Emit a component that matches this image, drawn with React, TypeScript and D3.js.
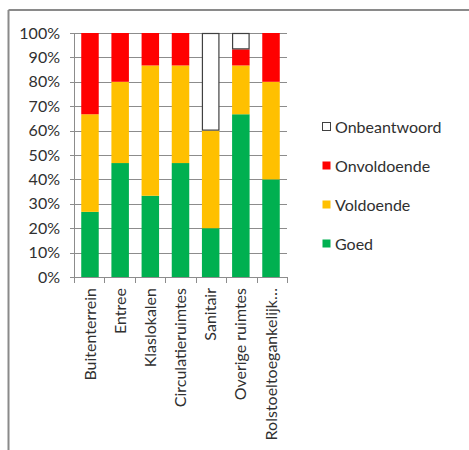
import React from "react";
import * as d3 from "d3";

const categories = [
  "Buitenterrein",
  "Entree",
  "Klaslokalen",
  "Circulatieruimtes",
  "Sanitair",
  "Overige ruimtes",
  "Rolstoeltoegankelijk…",
];
const goed = [26.7, 46.7, 33.3, 46.7, 20, 66.7, 40];
const voldoende = [40, 33.3, 53.4, 40, 40, 20, 40];
const onvoldoende = [33.3, 20, 13.3, 13.3, 0, 6.6, 20];
const onbeantwoord = [0, 0, 0, 0, 40, 6.7, 0];
const yTicks = [0, 10, 20, 30, 40, 50, 60, 70, 80, 90, 100];
const legendItems = ["Onbeantwoord", "Onvoldoende", "Voldoende", "Goed"];

const W = 469;
const H = 450;
const FONT = "Lato, 'Open Sans', sans-serif";
const TEXT = "#303030";
const FS = 16;

export default function App() {
  const x = d3
    .scaleBand<string>()
    .domain(categories)
    .range([74, 287])
    .paddingInner(0.42)
    .paddingOuter(0.24);
  const y = d3.scaleLinear().domain([0, 100]).range([277, 33]);

  const seriesList = [
    { key: "Goed", values: goed, fill: "#00B050", stroke: "none" },
    { key: "Voldoende", values: voldoende, fill: "#FFC000", stroke: "none" },
    { key: "Onvoldoende", values: onvoldoende, fill: "#FF0000", stroke: "none" },
    { key: "Onbeantwoord", values: onbeantwoord, fill: "#FFFFFF", stroke: "#404040" },
  ];

  const rows = categories.map((c, i) => {
    const r: any = { cat: c };
    seriesList.forEach((s) => (r[s.key] = s.values[i]));
    return r;
  });
  const stacked = d3.stack<any>().keys(seriesList.map((s) => s.key))(rows);

  const legendColor: Record<string, { fill: string; stroke: string }> = {};
  seriesList.forEach((s) => (legendColor[s.key] = { fill: s.fill, stroke: s.stroke }));
  const legendY = d3.scalePoint<string>().domain(legendItems).range([127, 244]);

  const xTickPos = d3.range(categories.length + 1).map((i) => 74 + i * (213 / categories.length));

  return (
    <div style={{ position: "fixed", left: 0, top: 0 }}>
      <svg width={W} height={H} style={{ display: "block", background: "#fff" }}>
        {/* frame */}
        <line x1={8.5} x2={8.5} y1={10} y2={H} stroke="#8a8a8a" strokeWidth={2} />
        <line x1={8.5} x2={W} y1={10} y2={10} stroke="#8a8a8a" strokeWidth={2} />

        {/* gridlines */}
        {yTicks.map((t) => (
          <line
            key={"g" + t}
            x1={70}
            x2={287}
            y1={Math.round(y(t)) + 0.5}
            y2={Math.round(y(t)) + 0.5}
            stroke="#8c8c8c"
            strokeWidth={1}
          />
        ))}
        {/* y axis */}
        <line x1={74.5} x2={74.5} y1={33} y2={277} stroke="#8c8c8c" />
        {yTicks.map((t) => (
          <text
            key={"yl" + t}
            x={60}
            y={y(t)}
            dy="0.35em"
            textAnchor="end"
            fontFamily={FONT}
            fontSize={FS}
            fill={TEXT}
          >
            {t + "%"}
          </text>
        ))}

        {/* bars */}
        {stacked.map((layer, li) => {
          const s = seriesList[li];
          const st = s.stroke !== "none";
          return (
            <g key={s.key}>
              {layer.map((d, i) =>
                d[1] - d[0] > 0 ? (
                  <rect
                    key={i}
                    x={x(categories[i])! + (st ? 0.5 : 0)}
                    y={y(d[1]) + (st ? 0.5 : 0)}
                    width={x.bandwidth() - (st ? 1 : 0)}
                    height={y(d[0]) - y(d[1]) - (st ? 1 : 0)}
                    fill={s.fill}
                    stroke={s.stroke}
                    strokeWidth={st ? 1.2 : 0}
                  />
                ) : null
              )}
            </g>
          );
        })}

        {/* x axis */}
        <line x1={74} x2={287} y1={277.5} y2={277.5} stroke="#8c8c8c" />
        {xTickPos.map((p, i) => (
          <line
            key={"xt" + i}
            x1={Math.round(p) + 0.5}
            x2={Math.round(p) + 0.5}
            y1={277}
            y2={283}
            stroke="#8c8c8c"
          />
        ))}
        {categories.map((c) => {
          const cx = x(c)! + x.bandwidth() / 2;
          return (
            <text
              key={"xl" + c}
              transform={`translate(${cx},288) rotate(-90)`}
              dy="0.35em"
              textAnchor="end"
              fontFamily={FONT}
              fontSize={FS}
              fill={TEXT}
            >
              {c}
            </text>
          );
        })}

        {/* legend */}
        {legendItems.map((k) => {
          const cy = legendY(k)!;
          const col = legendColor[k];
          return (
            <g key={"lg" + k}>
              <rect
                x={322.5}
                y={cy - 4.5}
                width={8}
                height={8}
                fill={col.fill}
                stroke={col.stroke === "none" ? "none" : col.stroke}
                strokeWidth={1}
              />
              <text x={335} y={cy} dy="0.35em" fontFamily={FONT} fontSize={FS} fill={TEXT}>
                {k}
              </text>
            </g>
          );
        })}
      </svg>
    </div>
  );
}
